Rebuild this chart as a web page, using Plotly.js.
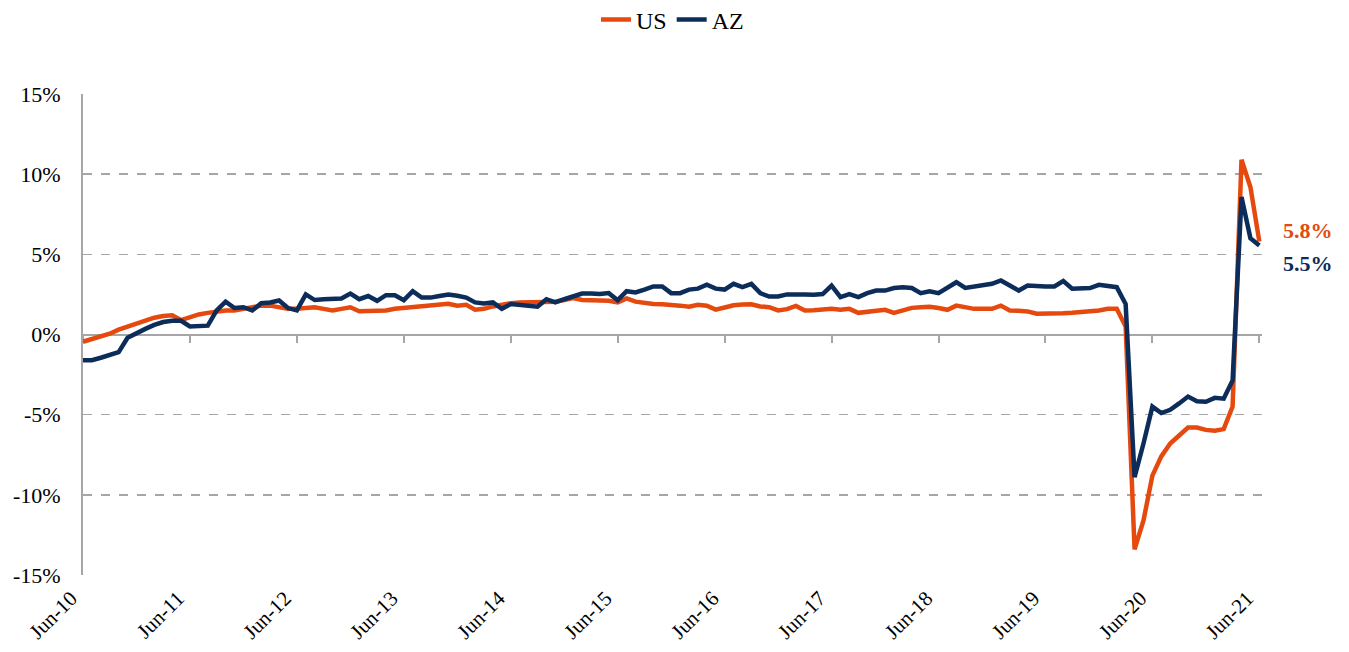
<!DOCTYPE html>
<html>
<head>
<meta charset="utf-8">
<script src="https://cdn.plot.ly/plotly-3.0.1.min.js"></script>
<style>html,body{margin:0;padding:0;background:#fff;}#chart{width:1349px;height:652px;}</style>
</head>
<body>
<div id="chart"></div>
<script>
// Monthly categories Jun-10 .. Jun-21
var monthNames = ['Jan','Feb','Mar','Apr','May','Jun','Jul','Aug','Sep','Oct','Nov','Dec'];
var months = [];
for (var k = 0; k < 133; k++) {
  var m = (5 + k) % 12;
  var yr = 10 + Math.floor((5 + k) / 12);
  months.push(monthNames[m] + '-' + (yr < 10 ? '0' + yr : '' + yr));
}

var tickLabels = ['Jun-10','Jun-11','Jun-12','Jun-13','Jun-14','Jun-15','Jun-16','Jun-17','Jun-18','Jun-19','Jun-20','Jun-21'];
var yTickVals = [-15,-10,-5,0,5,10,15];
var yTickText = ['-15%','-10%','-5%','0%','5%','10%','15%'];

// Year-over-year change, %
var usValues = [
 -0.45,-0.3,-0.15,0.05,0.3,0.5,0.7,0.85,1.05,1.15,
 1.2,0.9,1.1,1.25,1.35,1.45,1.5,1.5,1.6,1.75,
 1.8,1.8,1.7,1.6,1.6,1.65,1.7,1.6,1.5,1.6,
 1.7,1.45,1.45,1.45,1.5,1.6,1.65,1.7,1.75,1.75,
 1.8,1.92,1.8,1.85,1.55,1.6,1.75,1.88,1.95,2.0,
 2.0,2.03,2.0,2.05,2.15,2.27,2.15,2.14,2.14,2.1,
 2.0,2.25,2.05,1.95,1.9,1.88,1.87,1.8,1.73,1.85,
 1.8,1.55,1.68,1.82,1.87,1.89,1.75,1.7,1.5,1.58,
 1.78,1.5,1.52,1.56,1.6,1.54,1.6,1.35,1.42,1.48,
 1.54,1.35,1.5,1.66,1.7,1.73,1.65,1.54,1.8,1.7,
 1.6,1.6,1.6,1.8,1.5,1.48,1.44,1.3,1.29,1.29,
 1.33,1.36,1.4,1.45,1.5,1.6,1.6,0.5,-13.4,-11.6,
 -8.8,-7.6,-6.8,-6.3,-5.8,-5.8,-5.95,-6.0,-5.9,-4.5,
 10.9,9.2,5.8
];
var azValues = [
 -1.6,-1.6,-1.45,-1.25,-1.1,-0.2,0.1,0.35,0.6,0.78,
 0.85,0.85,0.5,0.5,0.55,1.5,2.05,1.65,1.7,1.5,
 1.95,2.0,2.12,1.65,1.5,2.5,2.15,2.2,2.2,2.25,
 2.55,2.2,2.4,2.1,2.45,2.45,2.14,2.7,2.3,2.3,
 2.4,2.5,2.42,2.3,2.0,1.93,2.0,1.6,1.9,1.85,
 1.8,1.73,2.2,2.0,2.2,2.35,2.55,2.55,2.52,2.58,
 2.14,2.7,2.62,2.8,3.0,3.0,2.58,2.58,2.8,2.86,
 3.1,2.86,2.8,3.16,2.96,3.16,2.58,2.37,2.37,2.5,
 2.52,2.5,2.48,2.52,3.05,2.33,2.52,2.33,2.58,2.74,
 2.74,2.9,2.95,2.9,2.58,2.7,2.58,2.95,3.26,2.9,
 3.0,3.1,3.16,3.37,3.05,2.74,3.05,3.0,3.0,3.0,
 3.33,2.86,2.9,2.9,3.1,3.0,2.95,1.9,-8.9,-6.8,
 -4.5,-4.9,-4.7,-4.3,-3.87,-4.16,-4.2,-3.95,-4.0,-2.87,
 8.57,6.0,5.55
];

var US_COLOR = '#E5490E';
var AZ_COLOR = '#0C2C5A';
var GRID = '#A6A6A6';
var FONT = '"Times New Roman", "Liberation Serif", Times, serif';

var idx = months.map(function(_, i){ return i; });
var tickVals = tickLabels.map(function(t){ return months.indexOf(t); });
var last = months.length - 1;

var traces = [
  {x: [0], y: [0], xaxis: 'x2', yaxis: 'y', mode: 'lines', opacity: 0,
   showlegend: false, hoverinfo: 'skip', line: {width: 0}},
  {x: idx, y: usValues, name: 'US', mode: 'lines',
   line: {color: US_COLOR, width: 4.5}},
  {x: idx, y: azValues, name: 'AZ', mode: 'lines',
   line: {color: AZ_COLOR, width: 4.5}}
];

var xr = [0, last + 0.3];

var layout = {
  width: 1349, height: 652,
  margin: {l: 83, r: 87, t: 94, b: 77, autoexpand: false},
  paper_bgcolor: '#fff', plot_bgcolor: '#fff',
  font: {family: FONT, size: 22, color: '#000'},
  showlegend: true,
  legend: {orientation: 'h', x: 0.5, xanchor: 'center', y: 1.154, yanchor: 'middle',
           font: {family: FONT, size: 24, color: '#000'}, traceorder: 'normal'},
  xaxis: {range: xr, tickmode: 'array', tickvals: tickVals, ticktext: tickLabels,
          tickangle: -45, showgrid: false, zeroline: false, showline: false, ticks: '',
          ticklabelstandoff: 6, ticklabelshift: -12,
          tickfont: {family: FONT, size: 21, color: '#000'}, fixedrange: true},
  xaxis2: {range: xr, overlaying: 'x', anchor: 'free', position: 0.5, side: 'bottom',
           tickmode: 'array', tickvals: tickVals, showticklabels: false,
           ticks: 'outside', ticklen: 7, tickwidth: 2, tickcolor: GRID,
           showline: true, linecolor: GRID, linewidth: 2,
           showgrid: false, zeroline: false, layer: 'below traces'},
  yaxis: {range: [-15, 15], tickmode: 'array', tickvals: yTickVals, ticktext: yTickText,
          showgrid: true, gridcolor: GRID, griddash: 'dash', gridwidth: 1.5,
          zeroline: false, showline: true, linecolor: GRID, linewidth: 2, ticks: '',
          ticklabelstandoff: 16,
          tickfont: {family: FONT, size: 22, color: '#000'}},
  annotations: [
    {x: last, y: usValues[last], xref: 'x', yref: 'y', xanchor: 'left', yanchor: 'middle',
     xshift: 22, yshift: 11, showarrow: false, text: '<b>' + usValues[last].toFixed(1) + '%</b>',
     font: {family: FONT, size: 22, color: US_COLOR}},
    {x: last, y: azValues[last], xref: 'x', yref: 'y', xanchor: 'left', yanchor: 'middle',
     xshift: 22, yshift: -18, showarrow: false, text: '<b>' + azValues[last].toFixed(1) + '%</b>',
     font: {family: FONT, size: 22, color: AZ_COLOR}}
  ]
};

Plotly.newPlot('chart', traces, layout, {displayModeBar: false, staticPlot: true});
</script>
</body>
</html>
